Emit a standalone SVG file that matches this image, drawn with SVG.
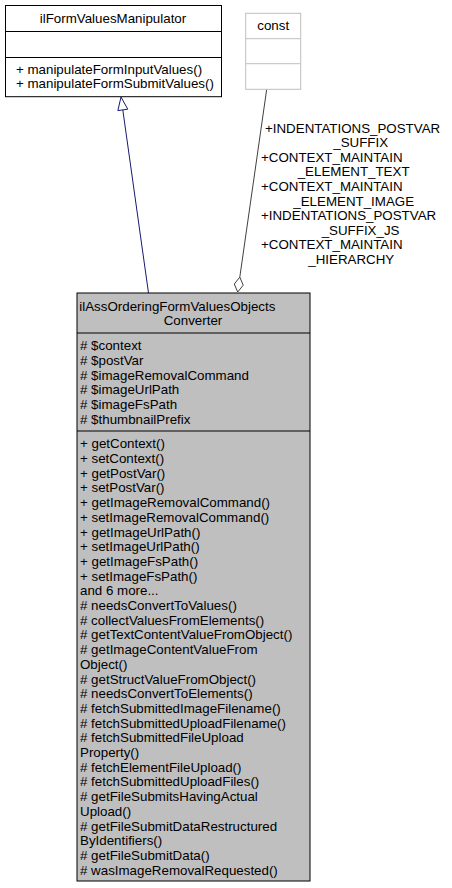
<svg xmlns="http://www.w3.org/2000/svg" width="452" height="888" viewBox="0 0 452 888">
<style>
text{font-family:"Liberation Sans",Arial,Helvetica,sans-serif;font-size:13.33px;fill:#000}
.mid{text-anchor:middle}
.box{fill:#fff;stroke:#000;stroke-width:1}
.cbox{fill:#fff;stroke:#bfbfbf;stroke-width:1}
.main{fill:#bfbfbf;stroke:#000;stroke-width:1}
.sep{stroke:#000;stroke-width:1}
.csep{stroke:#bfbfbf;stroke-width:1}
.inh{stroke:#191970;stroke-width:1;fill:none}
.agg{stroke:#404040;stroke-width:1;fill:none}
</style>
<rect width="452" height="888" fill="#fff"/>
<g id="connectors">
<line class="inh" x1="148.5" y1="293" x2="122.8" y2="109.9"/>
<polygon class="inh" points="121,97 127.75,109.2 117.85,110.6" fill="#fff" style="fill:#fff"/>
<line class="agg" x1="266.7" y1="89.3" x2="239.8" y2="277.1"/>
<polygon class="agg" points="237.7,292 243.2,285.2 239.8,277.1 234.3,284" style="fill:#fff"/>
<text x="265" y="132.5">+INDENTATIONS_POSTVAR</text>
<text x="333.3" y="147.1">_SUFFIX</text>
<text x="261" y="161.7">+CONTEXT_MAINTAIN</text>
<text x="297.7" y="176.3">_ELEMENT_TEXT</text>
<text x="261" y="190.9">+CONTEXT_MAINTAIN</text>
<text x="293.3" y="205.5">_ELEMENT_IMAGE</text>
<text x="261" y="220.1">+INDENTATIONS_POSTVAR</text>
<text x="321.7" y="234.7">_SUFFIX_JS</text>
<text x="261" y="249.3">+CONTEXT_MAINTAIN</text>
<text x="308.3" y="263.9">_HIERARCHY</text>
</g>
<g id="ilFormValuesManipulator">
<rect class="box" x="5.5" y="5.5" width="216" height="91.2"/>
<line class="sep" x1="5.5" y1="31.5" x2="221.5" y2="31.5"/>
<line class="sep" x1="5.5" y1="57.5" x2="221.5" y2="57.5"/>
<text class="mid" x="113" y="22.5">ilFormValuesManipulator</text>
<text x="16" y="73.8">+ manipulateFormInputValues()</text>
<text x="16" y="88.3">+ manipulateFormSubmitValues()</text>
</g>
<g id="const">
<rect class="cbox" x="245.7" y="13.3" width="55" height="76"/>
<line class="csep" x1="245.7" y1="38.7" x2="300.7" y2="38.7"/>
<line class="csep" x1="245.7" y1="63.7" x2="300.7" y2="63.7"/>
<text class="mid" x="273.2" y="29.5">const</text>
</g>
<g id="ilAssOrderingFormValuesObjectsConverter">
<rect class="main" x="77" y="293" width="233" height="588"/>
<line class="sep" x1="77" y1="333" x2="310" y2="333"/>
<line class="sep" x1="77" y1="431" x2="310" y2="431"/>
<text x="79.3" y="310.5">ilAssOrderingFormValuesObjects</text>
<text class="mid" x="193" y="325.2">Converter</text>
<text x="80">
<tspan x="80" y="350.3"># $context</tspan>
<tspan x="80" y="365"># $postVar</tspan>
<tspan x="80" y="379.7"># $imageRemovalCommand</tspan>
<tspan x="80" y="394.4"># $imageUrlPath</tspan>
<tspan x="80" y="409.1"># $imageFsPath</tspan>
<tspan x="80" y="423.8"># $thumbnailPrefix</tspan>
</text>
<text x="80">
<tspan x="80" y="448.3">+ getContext()</tspan>
<tspan x="80" y="463">+ setContext()</tspan>
<tspan x="80" y="477.7">+ getPostVar()</tspan>
<tspan x="80" y="492.4">+ setPostVar()</tspan>
<tspan x="80" y="507.1">+ getImageRemovalCommand()</tspan>
<tspan x="80" y="521.8">+ setImageRemovalCommand()</tspan>
<tspan x="80" y="536.5">+ getImageUrlPath()</tspan>
<tspan x="80" y="551.2">+ setImageUrlPath()</tspan>
<tspan x="80" y="565.9">+ getImageFsPath()</tspan>
<tspan x="80" y="580.6">+ setImageFsPath()</tspan>
<tspan x="80" y="595.3">and 6 more...</tspan>
<tspan x="80" y="610"># needsConvertToValues()</tspan>
<tspan x="80" y="624.7"># collectValuesFromElements()</tspan>
<tspan x="80" y="639.4"># getTextContentValueFromObject()</tspan>
<tspan x="80" y="654.1"># getImageContentValueFrom</tspan>
<tspan x="80" y="668.8">Object()</tspan>
<tspan x="80" y="683.5"># getStructValueFromObject()</tspan>
<tspan x="80" y="698.2"># needsConvertToElements()</tspan>
<tspan x="80" y="712.9"># fetchSubmittedImageFilename()</tspan>
<tspan x="80" y="727.6"># fetchSubmittedUploadFilename()</tspan>
<tspan x="80" y="742.3"># fetchSubmittedFileUpload</tspan>
<tspan x="80" y="757">Property()</tspan>
<tspan x="80" y="771.7"># fetchElementFileUpload()</tspan>
<tspan x="80" y="786.4"># fetchSubmittedUploadFiles()</tspan>
<tspan x="80" y="801.1"># getFileSubmitsHavingActual</tspan>
<tspan x="80" y="815.8">Upload()</tspan>
<tspan x="80" y="830.5"># getFileSubmitDataRestructured</tspan>
<tspan x="80" y="845.2">ByIdentifiers()</tspan>
<tspan x="80" y="859.9"># getFileSubmitData()</tspan>
<tspan x="80" y="874.6"># wasImageRemovalRequested()</tspan>
</text>
</g>
</svg>
